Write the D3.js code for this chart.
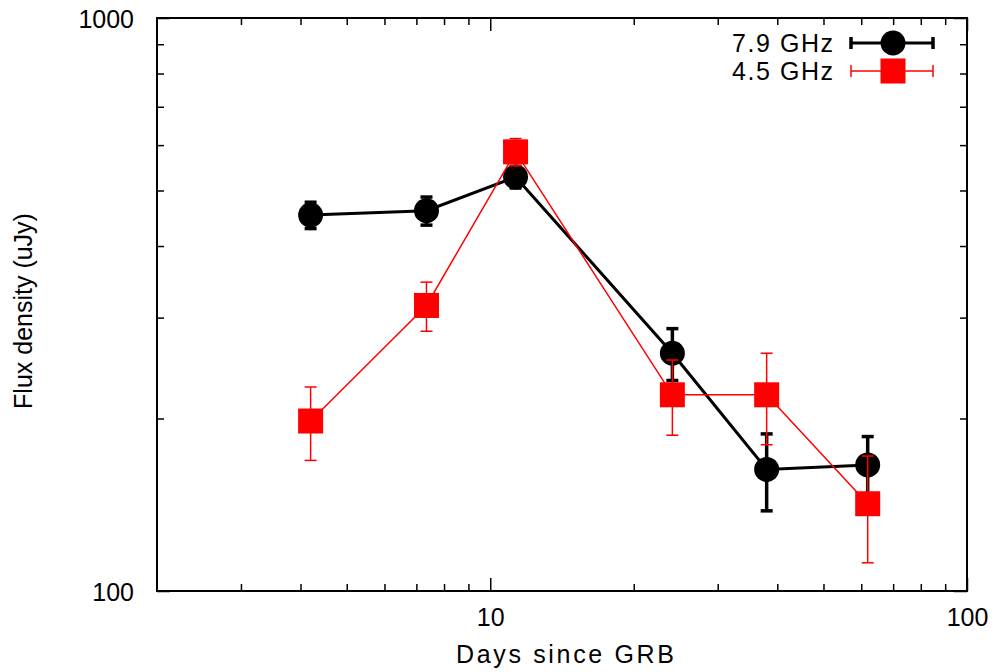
<!DOCTYPE html>
<html>
<head>
<meta charset="utf-8">
<script src="https://cdn.jsdelivr.net/npm/d3@7"></script>
<style>
  html, body { margin: 0; padding: 0; background: #fff; }
  text { font-family: "Liberation Sans", Arial, Helvetica, sans-serif; }
</style>
</head>
<body>
<svg id="chart" width="994" height="672"></svg>
<script>
// ---- data ----
const days = [4.2, 7.35, 11.3, 24.1, 38.0, 61.9];
const flux79 = [453, 461, 528, 260, 163, 166];
const err79 = [24, 26, 23, 27, 25, 20];
const flux45 = [198, 315, 584, 220, 220, 142];
const err45 = [29, 31, 32, 33, 40, 30];
const seriesNames = ["7.9 GHz", "4.5 GHz"];
const xMajorTicks = [10, 100];
const xMinorTicks = [3, 4, 5, 6, 7, 8, 9, 20, 30, 40, 50, 60, 70, 80, 90];
const yMajorTicks = [100, 1000];
const yMinorTicks = [200, 300, 400, 500, 600, 700, 800, 900];
const xTitle = "Days since GRB";
const yTitle = "Flux density (uJy)";

// ---- layout ----
const svg = d3.select("#chart");
const L = 157, R = 967, T = 18, B = 591;
const x = d3.scaleLog().domain([2, 100]).range([L, R]);
const y = d3.scaleLog().domain([100, 1000]).range([B, T]);
const FS = 25;
const minorLen = 7, majorLen = 13;

// ticks (inward, mirrored on all four sides)
function tickGroup(axisGen, tx, ty) {
  const g = svg.append("g").attr("transform", `translate(${tx},${ty})`).call(axisGen);
  g.select(".domain").remove();
  g.selectAll(".tick line").attr("stroke", "#000").attr("stroke-width", 1.5);
  g.selectAll(".tick text").attr("font-size", FS).attr("fill", "#000")
    .attr("font-family", '"Liberation Sans", Arial, sans-serif');
  return g;
}
// bottom
tickGroup(d3.axisBottom(x).tickValues(xMinorTicks).tickSize(-minorLen).tickFormat(""), 0, B);
const gxb = tickGroup(d3.axisBottom(x).tickValues(xMajorTicks).tickSize(-majorLen).tickPadding(0).tickFormat(d3.format("d")), 0, B);
gxb.selectAll(".tick text").attr("dy", null).attr("y", 35);
// top
tickGroup(d3.axisTop(x).tickValues(xMinorTicks).tickSize(-minorLen).tickFormat(""), 0, T);
tickGroup(d3.axisTop(x).tickValues(xMajorTicks).tickSize(-majorLen).tickFormat(""), 0, T);
// left
tickGroup(d3.axisLeft(y).tickValues(yMinorTicks).tickSize(-minorLen).tickFormat(""), L, 0);
const gyl = tickGroup(d3.axisLeft(y).tickValues(yMajorTicks).tickSize(-majorLen).tickFormat(d3.format("d")), L, 0);
gyl.selectAll(".tick text").attr("x", -23).attr("dy", "0.36em");
// right
tickGroup(d3.axisRight(y).tickValues(yMinorTicks).tickSize(-minorLen).tickFormat(""), R, 0);
tickGroup(d3.axisRight(y).tickValues(yMajorTicks).tickSize(-majorLen).tickFormat(""), R, 0);

// frame
svg.append("rect").attr("x", L).attr("y", T).attr("width", R - L).attr("height", B - T)
  .attr("fill", "none").attr("stroke", "#000").attr("stroke-width", 2);

// axis titles
svg.append("text").attr("x", (L + R) / 2 + 3).attr("y", 663).attr("text-anchor", "middle")
  .attr("font-size", FS).attr("textLength", 218).attr("lengthAdjust", "spacing").text(xTitle);
svg.append("text").attr("transform", "translate(32,311) rotate(-90)").attr("text-anchor", "middle")
  .attr("font-size", FS).text(yTitle);

// ---- series ----
const series = [
  { name: seriesNames[0], vals: flux79, errs: err79, color: "#000", lw: 3, ew: 3.5, cap: 12, shape: "circle" },
  { name: seriesNames[1], vals: flux45, errs: err45, color: "#ff0000", lw: 1.5, ew: 1.5, cap: 12, shape: "square" }
];
const MS = 25;

series.forEach(s => {
  const pts = days.map((d, i) => ({ d, v: s.vals[i], e: s.errs[i] }));
  const g = svg.append("g");
  g.append("path").datum(pts)
    .attr("d", d3.line().x(p => x(p.d)).y(p => y(p.v)))
    .attr("fill", "none").attr("stroke", s.color).attr("stroke-width", s.lw);
  const eb = g.selectAll(".eb").data(pts).enter().append("g");
  eb.append("line").attr("x1", p => x(p.d)).attr("x2", p => x(p.d))
    .attr("y1", p => y(p.v + p.e)).attr("y2", p => y(p.v - p.e))
    .attr("stroke", s.color).attr("stroke-width", s.ew);
  [1, -1].forEach(sg => {
    eb.append("line").attr("x1", p => x(p.d) - s.cap / 2).attr("x2", p => x(p.d) + s.cap / 2)
      .attr("y1", p => y(p.v + sg * p.e)).attr("y2", p => y(p.v + sg * p.e))
      .attr("stroke", s.color).attr("stroke-width", s.ew);
  });
  if (s.shape === "circle") {
    g.selectAll(".pt").data(pts).enter().append("circle")
      .attr("cx", p => x(p.d)).attr("cy", p => y(p.v)).attr("r", MS / 2).attr("fill", s.color);
  } else {
    g.selectAll(".pt").data(pts).enter().append("rect")
      .attr("x", p => x(p.d) - MS / 2).attr("y", p => y(p.v) - MS / 2)
      .attr("width", MS).attr("height", MS).attr("fill", s.color);
  }
});

// ---- legend ----
const legX1 = 851, legX2 = 933, legTextX = 833;
series.forEach((s, i) => {
  const cy = 43 + i * 28;
  const g = svg.append("g");
  g.append("text").attr("x", legTextX).attr("y", cy + 9).attr("text-anchor", "end")
    .attr("font-size", FS).attr("textLength", 101).attr("lengthAdjust", "spacing").text(s.name);
  g.append("line").attr("x1", legX1).attr("x2", legX2).attr("y1", cy).attr("y2", cy)
    .attr("stroke", s.color).attr("stroke-width", s.lw);
  [legX1, legX2].forEach(cx => {
    g.append("line").attr("x1", cx).attr("x2", cx).attr("y1", cy - 6).attr("y2", cy + 6)
      .attr("stroke", s.color).attr("stroke-width", s.ew);
  });
  if (s.shape === "circle") {
    g.append("circle").attr("cx", 893).attr("cy", cy).attr("r", MS / 2).attr("fill", s.color);
  } else {
    g.append("rect").attr("x", 893 - MS / 2).attr("y", cy - MS / 2).attr("width", MS).attr("height", MS).attr("fill", s.color);
  }
});
</script>
</body>
</html>
